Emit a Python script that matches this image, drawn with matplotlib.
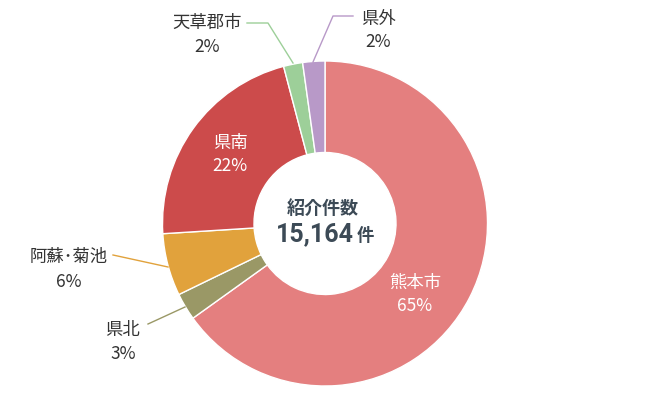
import matplotlib.pyplot as plt
import numpy as np

plt.rcParams['font.family'] = ['Noto Sans CJK JP', 'DejaVu Sans']

# data (share %)
regions = ['熊本市', '県北', '阿蘇･菊池', '県南', '天草郡市', '県外']
shares = [65.1, 2.7, 6.2, 21.9, 1.9, 2.2]
labels_pct = ['65%', '3%', '6%', '22%', '2%', '2%']
colors = ['#e47f7f', '#9a9866', '#e1a23c', '#cc4b4b', '#9dcf99', '#b899c8']
total = '15,164'

W, H = 650, 401
fig = plt.figure(figsize=(6.5, 4.01), dpi=100)
ax = fig.add_axes([0, 0, 1, 1])


def py(y):
    # pixel y (from top) -> data y
    return H - y


cx, cy = 325, py(223.5)
R = 162.5
width = R - 71

wedges, _ = ax.pie(shares, colors=colors, startangle=90, counterclock=False,
                   center=(cx, cy), radius=R, frame=True,
                   wedgeprops=dict(width=width, edgecolor='white', linewidth=1))
ax.set_xlim(0, W)
ax.set_ylim(0, H)
ax.set_aspect('equal')
ax.axis('off')

txt = '#333333'
fs = 12.5

# inside labels (white)
ax.text(415, py(283), regions[0], color='white', fontsize=fs, ha='center', va='center')
ax.text(415, py(306), labels_pct[0], color='white', fontsize=fs, ha='center', va='center')
ax.text(230, py(143), regions[3], color='white', fontsize=fs, ha='center', va='center')
ax.text(230, py(166), labels_pct[3], color='white', fontsize=fs, ha='center', va='center')

# outside labels
outside = {
    1: ((123, 330), (123, 354)),
    2: ((69, 257), (69, 282)),
    4: ((207, 23), (207, 47)),
    5: ((378, 19), (378, 42)),
}
for i, ((x1, y1), (x2, y2)) in outside.items():
    ax.text(x1, py(y1), regions[i], color=txt, fontsize=fs, ha='center', va='center')
    ax.text(x2, py(y2), labels_pct[i], color=txt, fontsize=fs, ha='center', va='center')

# leader lines
leaders = {
    1: [(148, 324), (185, 307)],
    2: [(113, 255), (168, 267)],
    4: [(247, 23), (268, 23), (293, 63)],
    5: [(353, 16), (333, 16), (313, 62)],
}
for i, pts in leaders.items():
    xs = [p[0] for p in pts]
    ys = [py(p[1]) for p in pts]
    ax.plot(xs, ys, color=colors[i], lw=1)

# centre text
ctext = '#3c4a56'
ax.text(cx - 2, py(208), '紹介件数', color=ctext, fontsize=13, fontweight='bold',
        ha='center', va='center')
ax.text(354, py(234), total, color=ctext, fontsize=18, fontweight='bold',
        ha='right', va='center', family='Roboto')
ax.text(357, py(236), '件', color=ctext, fontsize=12.5, fontweight='bold',
        ha='left', va='center')

fig.savefig('out.png', dpi=100)
